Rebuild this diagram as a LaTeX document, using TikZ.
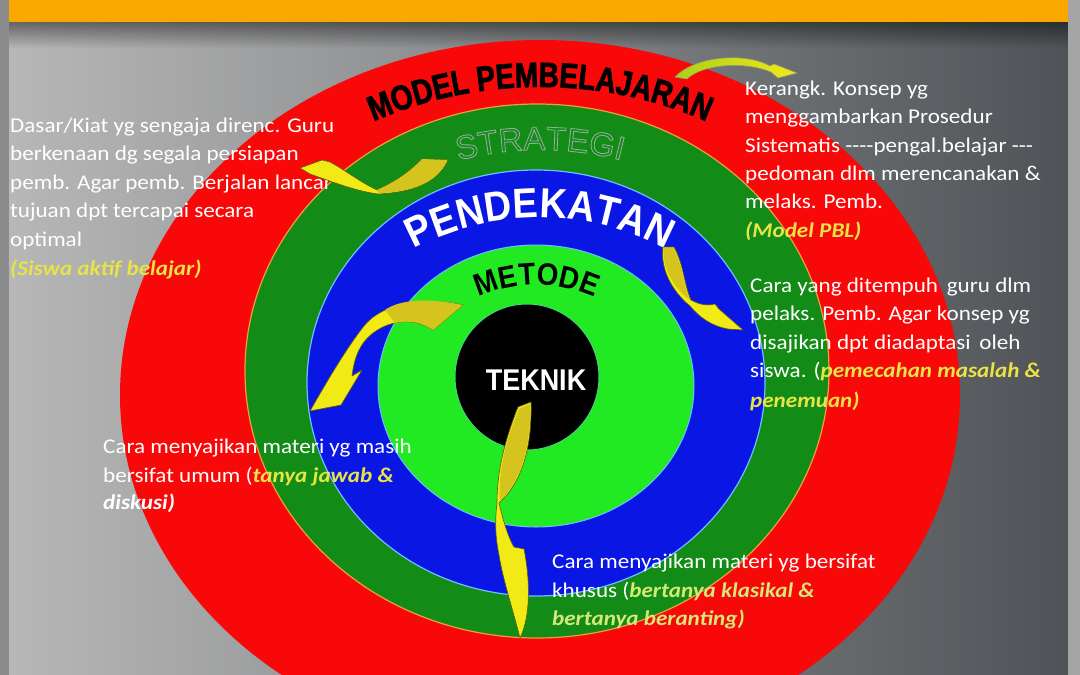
\documentclass[tikz,border=0pt]{standalone}
\usepackage{fontspec}
\usetikzlibrary{decorations.text,fadings}
\setmainfont{Carlito}[FakeStretch=1.1]
\newfontfamily\mpfont{Liberation Sans}[FakeStretch=0.8, FakeBold=2]
\newfontfamily\hdfont{Liberation Sans}[FakeStretch=0.9]
\newfontfamily\stout{Liberation Sans}[FakeBold=2.5]
\definecolor{redc}{RGB}{248,8,8}
\definecolor{dgreen}{RGB}{18,140,22}
\definecolor{bluec}{RGB}{10,22,228}
\definecolor{lgreen}{RGB}{34,234,34}
\definecolor{orline}{RGB}{235,160,60}
\definecolor{ltblue}{RGB}{110,190,255}
\definecolor{ylw}{RGB}{232,228,70}
\definecolor{pyl}{RGB}{214,232,120}
\definecolor{arY}{RGB}{242,234,20}
\definecolor{arO}{RGB}{214,196,30}
\definecolor{arEdge}{RGB}{90,90,20}
\definecolor{bandc}{RGB}{250,168,0}
\definecolor{bgl}{RGB}{184,184,184}
\definecolor{bgm}{RGB}{126,128,130}
\definecolor{bgr}{RGB}{78,82,86}
\definecolor{stripL}{RGB}{140,140,140}
\definecolor{stripR}{RGB}{165,165,165}
\newcommand{\yb}[1]{{\bfseries\itshape\color{ylw}#1}}
\newcommand{\pb}[1]{{\bfseries\itshape\color{pyl}#1}}
\newcommand{\wb}[1]{{\bfseries\itshape#1}}
\newcommand{\stroketone}{\special{pdf:literal direct 0.60 0.68 0.64 RG}}
\tikzset{
  txt/.style={anchor=base west, inner sep=0pt, text=white, font=\fontsize{21}{25}\selectfont},
  arrowshape/.style={draw=arEdge, line width=0.6pt, line join=round},
}
\begin{document}
\begin{tikzpicture}[x=1pt,y=1pt]
\useasboundingbox (0,-675) rectangle (1080,0);
% background
\shade[left color=bgl, middle color=bgm, right color=bgr] (0,-675) rectangle (1080,0);
\fill[black, opacity=0.45, path fading=south] (0,-48) rectangle (1080,-22);
\fill[bandc] (0,-22) rectangle (1080,0);
\fill[stripL] (0,-675) rectangle (9,0);
\fill[stripR] (1068,-675) rectangle (1080,0);

% rings
\fill[redc] (540,-395) ellipse [x radius=420pt, y radius=355pt];
\filldraw[fill=dgreen, draw=orline, line width=1.2pt] (537,-371) ellipse [x radius=292pt, y radius=267pt];
\filldraw[fill=bluec, draw=ltblue, line width=1.2pt] (536,-383) ellipse [x radius=229pt, y radius=213pt];
\filldraw[fill=lgreen, draw=ltblue, line width=1pt] (536,-386) ellipse [x radius=158pt, y radius=141pt];
\filldraw[fill=black, draw=lgreen!60!ltblue, line width=1pt] (527,-377) ellipse [x radius=72pt, y radius=73pt];

% ring titles
\path[decorate, decoration={text along path, text align=center,
  text={|\mpfont\bfseries\fontsize{35}{38}\selectfont\color{black}|MODEL PEMBELAJARAN}}]
  (540,-400) ++(150:365pt and 313pt) arc[start angle=150, end angle=30, x radius=365pt, y radius=313pt];
\path[decorate, decoration={text along path, text align=center,
  text={|\stout\fontsize{33}{36}\selectfont\color{dgreen}\stroketone|STRATEGI}}]
  (540,-400) ++(150:286pt and 250pt) arc[start angle=150, end angle=30, x radius=286pt, y radius=250pt];
\path[decorate, decoration={text along path, text align=center,
  text={|\hdfont\bfseries\fontsize{42}{46}\selectfont\color{white}|PENDEKATAN}}]
  (540,-400) ++(160:225pt and 182pt) arc[start angle=160, end angle=20, x radius=225pt, y radius=182pt];
\path[decorate, decoration={text along path, text align=center,
  text={|\hdfont\bfseries\fontsize{31}{34}\selectfont\color{black}|METODE}}]
  (537,-400) ++(160:128pt and 115pt) arc[start angle=160, end angle=20, x radius=128pt, y radius=115pt];
\node[inner sep=0pt, text=white, font=\hdfont\bfseries\fontsize{30}{32}\selectfont] (teknik) at (536,-380) {TEKNIK};

% left text block
\node[txt] (l1) at (10,-132) {Dasar/Kiat yg sengaja direnc. Guru};
\node[txt] (l2) at (10,-160) {berkenaan dg segala persiapan};
\node[txt] (l3) at (10,-189) {pemb. Agar pemb. Berjalan lancar};
\node[txt] (l4) at (10,-217) {tujuan dpt tercapai secara};
\node[txt] (l5) at (10,-246) {optimal};
\node[txt] (l6) at (10,-275) {\yb{(Siswa aktif belajar)}};

% right text block 1
\node[txt] (r1) at (745,-95) {Kerangk. Konsep yg};
\node[txt] (r2) at (745,-123) {menggambarkan Prosedur};
\node[txt] (r3) at (745,-152) {Sistematis -{}-{}-{}-pengal.belajar -{}-{}-};
\node[txt] (r4) at (745,-180) {pedoman dlm merencanakan \&};
\node[txt] (r5) at (745,-208) {melaks. Pemb.};
\node[txt] (r6) at (745,-237) {\yb{(Model PBL)}};

% right text block 2
\node[txt] (s1) at (750,-292) {Cara yang ditempuh\, guru dlm};
\node[txt] (s2) at (750,-320) {pelaks. Pemb. Agar konsep yg};
\node[txt] (s3) at (750,-349) {disajikan dpt diadaptasi\, oleh};
\node[txt] (s4) at (750,-377) {siswa. (\yb{pemecahan masalah \&}};
\node[txt] (s5) at (750,-407) {\yb{penemuan)}};

% bottom-left text block
\node[txt] (b1) at (103,-453) {Cara menyajikan materi yg masih};
\node[txt] (b2) at (103,-482) {bersifat umum (\yb{tanya jawab \&}};
\node[txt] (b3) at (103,-509) {\wb{diskusi)}};

% bottom-right text block
\node[txt] (c1) at (552,-568) {Cara menyajikan materi yg bersifat};
\node[txt] (c2) at (552,-597) {khusus (\pb{bertanya klasikal \&}};
\node[txt] (c3) at (552,-625) {\pb{bertanya beranting)}};

% arrows
% top right
\path[arrowshape, draw=arEdge!60, left color=arO!80!green, middle color=white!85!yellow, right color=arY]
  (675,-77) .. controls (695,-56) and (745,-52) .. (770,-66) -- (774,-64) -- (797,-73) -- (778,-78) -- (771,-72)
  .. controls (745,-61) and (702,-64) .. (687,-79) -- cycle;
% left upper
\path[arrowshape, fill=arY]
  (300,-168) -- (322,-160) -- (330,-162) .. controls (345,-170) and (360,-182) .. (377,-190)
  .. controls (395,-182) and (410,-172) .. (422,-159) -- (448,-160)
  .. controls (440,-178) and (420,-192) .. (378,-194)
  .. controls (355,-191) and (330,-181) .. (310,-174) -- cycle;
\path[fill=arO] (377,-190) .. controls (395,-182) and (410,-172) .. (422,-159) -- (447,-160)
  .. controls (440,-178) and (420,-192) .. (378,-193) -- cycle;
% right
\path[arrowshape, fill=arY]
  (663,-247) -- (674,-247) .. controls (684,-265) and (684,-285) .. (691,-300)
  .. controls (700,-305) and (708,-306) .. (715,-304) -- (719,-309) -- (743,-330) -- (728,-329)
  .. controls (712,-326) and (700,-318) .. (690,-306)
  .. controls (673,-292) and (660,-270) .. (663,-247) -- cycle;
\path[fill=arO] (663.5,-248) -- (673.5,-248) .. controls (683,-265) and (683,-285) .. (690,-300)
  .. controls (676,-290) and (662,-270) .. (663.5,-248) -- cycle;
% left inner
\path[arrowshape, fill=arY]
  (463,-305) .. controls (430,-298) and (385,-300) .. (364,-326)
  .. controls (345,-350) and (325,-385) .. (310,-411) -- (341,-405) -- (362,-370) -- (352,-376)
  .. controls (355,-350) and (365,-335) .. (385,-326)
  .. controls (405,-318) and (420,-322) .. (433,-330) -- cycle;
\path[fill=arO] (463,-305) .. controls (430,-298) and (400,-299) .. (385,-310) -- (395,-323)
  .. controls (410,-320) and (420,-322) .. (433,-330) -- cycle;
% bottom
\path[arrowshape, fill=arY]
  (518,-407) -- (531,-402) .. controls (532,-440) and (525,-480) .. (499,-503)
  .. controls (503,-520) and (508,-537) .. (514,-547) -- (524,-549)
  .. controls (530,-580) and (531,-615) .. (520,-638)
  .. controls (513,-610) and (503,-580) .. (499,-555)
  .. controls (495,-535) and (495,-520) .. (497,-503)
  .. controls (497,-470) and (505,-440) .. (518,-407) -- cycle;
\path[fill=arO] (519,-409) -- (530,-404) .. controls (531,-440) and (524,-478) .. (500,-501)
  .. controls (498,-470) and (506,-440) .. (519,-409) -- cycle;
\end{tikzpicture}
\end{document}
